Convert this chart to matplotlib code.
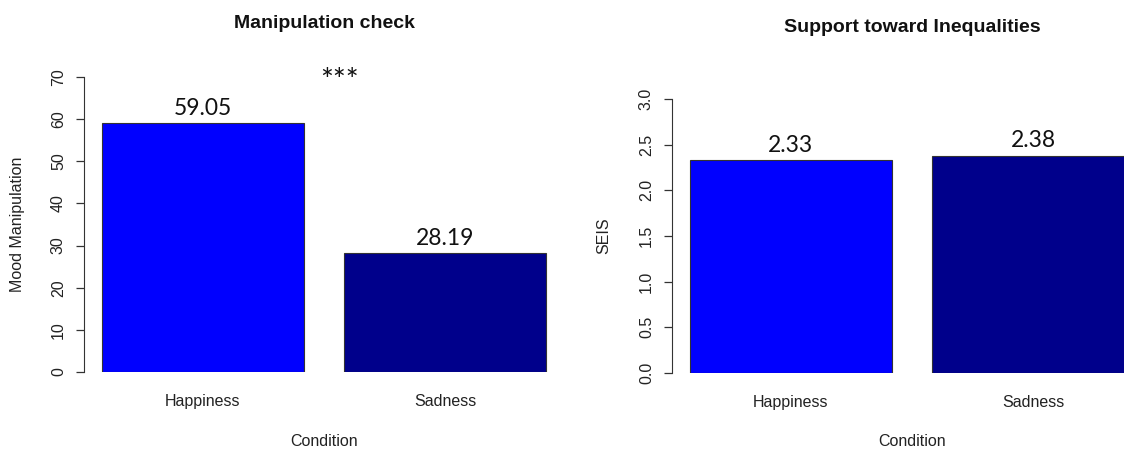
import matplotlib
matplotlib.use("Agg")
import matplotlib.pyplot as plt

conditions = ["Happiness", "Sadness"]
mood_values = [59.05, 28.19]
seis_values = [2.33, 2.38]
bar_colors = ["#0000FF", "#00008B"]

mood_ticks = [0, 10, 20, 30, 40, 50, 60, 70]
seis_ticks = [0.0, 0.5, 1.0, 1.5, 2.0, 2.5, 3.0]

plt.rcParams['font.family'] = ['Liberation Sans', 'DejaVu Sans']

fig = plt.figure(figsize=(11.24, 4.5), dpi=100)
ax1 = fig.add_axes([84 / 1124, 1 - 372 / 450, 480 / 1124, 295 / 450])
ax2 = fig.add_axes([672 / 1124, 1 - 373 / 450, 480 / 1124, 274 / 450])

# R barplot style positions: width 1, space 0.2
pos = [0.7, 1.9]


def r_barplot(ax, values, ticks, ylabel, title, title_y, ylab_x, xlab_y):
    bars = ax.bar(pos, values, width=1.0, color=bar_colors,
                  edgecolor='#333333', linewidth=0.8)
    ax.set_xlim(0.112, 2.488)
    ax.set_ylim(ticks[0], ticks[-1])
    for s in ['top', 'right', 'bottom']:
        ax.spines[s].set_visible(False)
    ax.spines['left'].set_color('#333333')
    ax.set_yticks(ticks)
    ax.set_yticklabels([str(t) for t in ticks], rotation=90, va='center')
    ax.tick_params(axis='y', length=6, width=0.9, color='#333333',
                   labelsize=11.5, labelcolor='#222222', pad=7)
    ax.set_xticks(pos)
    ax.set_xticklabels(conditions)
    ax.tick_params(axis='x', length=0, labelsize=11.5,
                   labelcolor='#222222', pad=16)
    ax.set_ylabel(ylabel, fontsize=11.5, color='#222222', va='center')
    ax.yaxis.set_label_coords(ylab_x, 0.5)
    ax.set_xlabel("Condition", fontsize=11.5, color='#222222', va='center')
    ax.xaxis.set_label_coords(0.5, xlab_y)
    ax.set_title(title, fontsize=14, fontweight='bold', y=title_y,
                 va='center', pad=0, color='#111111')
    ax.bar_label(bars, labels=[f"{v:.2f}" for v in values], padding=3,
                 fontsize=16.5, family=['Lato', 'DejaVu Sans'], color='#111111')
    return bars


r_barplot(ax1, mood_values, mood_ticks, "Mood Manipulation",
          "Manipulation check", (372 - 23) / 295, (18 - 84) / 480,
          -(441 - 372) / 295)
r_barplot(ax2, seis_values, seis_ticks, "SEIS",
          "Support toward Inequalities", (373 - 27) / 274, (604 - 672) / 480,
          -(441 - 373) / 274)

ax1.text((340 - 84) / 480, (372 - 81) / 295, "***", transform=ax1.transAxes,
         ha='center', va='center', fontsize=22,
         family=['Lato', 'DejaVu Sans'], color='#111111', clip_on=False)

fig.savefig("out.png", dpi=100)
